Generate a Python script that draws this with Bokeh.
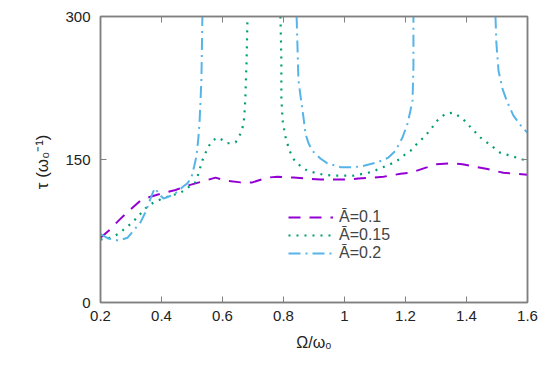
import numpy as np
from bokeh.plotting import figure
from bokeh.layouts import row
from bokeh.models import (Range1d, FixedTicker, LinearAxis, Legend, LegendItem,
                          NumeralTickFormatter, CustomJSTickFormatter, Spacer)
from bokeh.embed import file_html
from bokeh.resources import INLINE

nan = float("nan")

# A = 0.1 (dashed purple)
x1 = [0.200, 0.226, 0.266, 0.289, 0.331, 0.364, 0.407, 0.446, 0.479, 0.534, 0.577,
      0.610, 0.659, 0.698, 0.748, 0.780, 0.833, 0.872, 0.921, 0.964, 1.010, 1.046,
      1.095, 1.128, 1.184, 1.216, 1.272, 1.298, 1.354, 1.387, 1.436, 1.469, 1.521, 1.561, 1.600]
y1 = [68, 75, 88, 95, 107, 111, 115, 118, 122, 127, 131,
      128, 126, 126, 131, 132, 131, 130, 129, 129, 129, 130,
      131, 132, 135, 136, 142, 145, 146, 145, 142, 140, 136, 135, 134]

# A = 0.15 (dotted green)
x2 = [0.200, 0.233, 0.259, 0.282, 0.305, 0.325, 0.348, 0.374, 0.403, 0.430, 0.462,
      0.489, 0.511, 0.521, 0.534, 0.551, 0.567, 0.587, 0.616, 0.643, 0.659, 0.669,
      0.672, 0.675, 0.679, 0.682, nan,
      0.790, 0.793, 0.793, 0.797, 0.807, 0.820, 0.836, 0.856, 0.879, 0.905, 0.931,
      0.964, 0.997, 1.030, 1.059, 1.092, 1.118, 1.144, 1.174, 1.193, 1.216, 1.239,
      1.259, 1.279, 1.305, 1.331, 1.357, 1.387, 1.413, 1.446, 1.479, 1.511, 1.544,
      1.584, 1.600]
y2 = [66, 68, 72, 78, 84, 91, 99, 105, 109, 112, 115,
      121, 126, 135, 149, 162, 170, 173, 167, 168, 177, 187,
      198, 215, 254, 300, nan,
      300, 254, 215, 191, 173, 159, 149, 143, 138, 136, 134,
      133, 133, 133, 135, 137, 141, 144, 149, 154, 159, 167,
      173, 180, 191, 198, 199, 193, 184, 173, 165, 157, 154,
      150, 149]

# A = 0.2 (dash-dot blue)
x3 = [0.200, 0.226, 0.259, 0.289, 0.315, 0.331, 0.348, 0.364, 0.374, 0.380, 0.390,
      0.407, 0.430, 0.452, 0.472, 0.485, 0.498, 0.508, 0.515, 0.521, 0.525, 0.528,
      0.531, 0.534, nan,
      0.843, 0.849, 0.859, 0.866, 0.872, 0.882, 0.895, 0.921, 0.944, 0.987, 1.030,
      1.059, 1.108, 1.144, 1.167, 1.190, 1.207, 1.216, 1.223, 1.226, 1.226, nan,
      1.495, 1.498, 1.505, 1.518, 1.534, 1.554, 1.577, 1.600]
y3 = [72, 67, 65, 68, 78, 84, 95, 109, 117, 120, 114,
      109, 112, 116, 122, 125, 131, 144, 154, 173, 191, 212,
      236, 300, nan,
      300, 233, 209, 193, 177, 167, 159, 151, 146, 142, 142,
      143, 147, 152, 159, 173, 188, 201, 212, 247, 300, nan,
      300, 272, 243, 224, 210, 196, 186, 178]

labels = ["\u0100=0.1", "\u0100=0.15", "\u0100=0.2"]
x_ticks = [0.2, 0.4, 0.6, 0.8, 1.0, 1.2, 1.4, 1.6]
y_ticks = [0, 150, 300]

FONT = "Liberation Sans"

p = figure(width=527, height=362, output_backend="svg", toolbar_location=None,
           x_range=Range1d(0.2, 1.6), y_range=Range1d(0, 300),
           min_border_left=85, min_border_right=15, min_border_top=16,
           min_border_bottom=60)
p.grid.visible = False
p.outline_line_color = "#808080"
p.outline_line_width = 1.5

r1 = p.line(x1, y1, line_color="#9400D3", line_width=2, line_dash="12 9")
r2 = p.line(x2, y2, line_color="#009E73", line_width=2.2, line_dash="2 6")
r3 = p.line(x3, y3, line_color="#56B4E9", line_width=2, line_dash="12 5 2 5")

def style(ax, ticks, show):
    ax.ticker = FixedTicker(ticks=ticks)
    ax.minor_tick_line_color = None
    ax.major_tick_in = 6
    ax.major_tick_out = 0
    ax.major_tick_line_color = "#808080"
    ax.axis_line_color = "#808080"
    ax.axis_line_width = 1.5
    ax.major_label_text_font = FONT
    ax.major_label_text_font_size = "15px"
    ax.major_label_text_color = "#222222"
    ax.axis_label_text_font = FONT
    ax.axis_label_text_font_size = "15px"
    ax.axis_label_text_font_style = "normal"
    ax.axis_label_text_color = "#222222"
    if not show:
        ax.formatter = CustomJSTickFormatter(code="return '';")
        ax.major_label_standoff = 0

style(p.xaxis[0], x_ticks, True)
style(p.yaxis[0], y_ticks, True)
p.xaxis[0].formatter = NumeralTickFormatter(format="0.[0]")
p.xaxis[0].major_label_standoff = 8
p.yaxis[0].major_label_standoff = 10
p.xaxis[0].axis_label = "\u03a9/\u03c9\u2080"
p.xaxis[0].axis_label_standoff = 10
p.xaxis[0].axis_label_text_font_size = "16px"
p.yaxis[0].axis_label = "\u03c4  (\u03c9\u2080\u207b\u00b9)"
p.yaxis[0].axis_label_standoff = 10
p.yaxis[0].axis_label_text_font_size = "17px"

top = LinearAxis()
right = LinearAxis()
style(top, x_ticks, False)
style(right, y_ticks, False)
p.add_layout(top, "above")
p.add_layout(right, "right")

legend = Legend(items=[LegendItem(label=labels[0], renderers=[r1]),
                       LegendItem(label=labels[1], renderers=[r2]),
                       LegendItem(label=labels[2], renderers=[r3])],
                location=(188, 40), border_line_color=None,
                background_fill_alpha=0, label_text_font=FONT,
                label_text_font_size="16px", label_height=18, glyph_height=18,
                glyph_width=45, spacing=0, padding=2, margin=0,
                label_standoff=6)
p.add_layout(legend, "center")

layout = row(Spacer(width=15, height=362), p)

open("out.html", "w").write(file_html(layout, INLINE))
